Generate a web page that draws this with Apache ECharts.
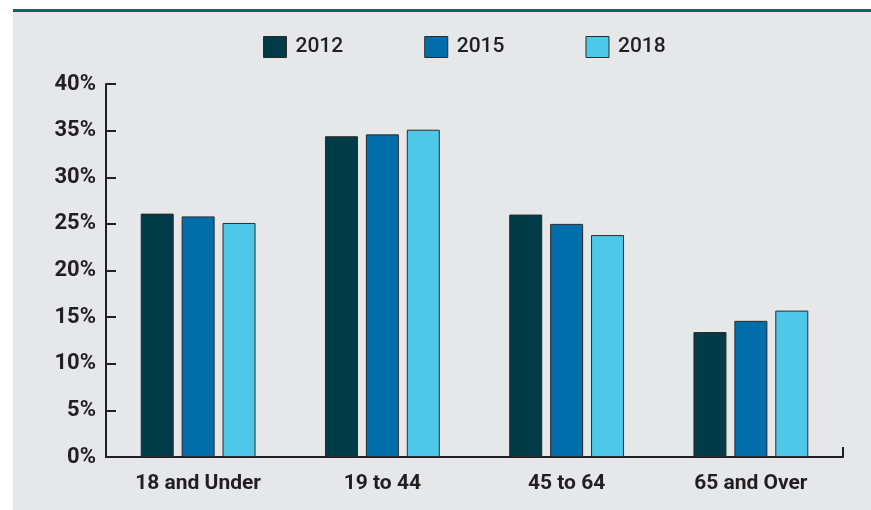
<!DOCTYPE html>
<html>
<head>
<meta charset="utf-8">
<script src="https://cdn.jsdelivr.net/npm/echarts@6/dist/echarts.min.js"></script>
<style>html,body{margin:0;padding:0;background:#fff;}#c{width:871px;height:510px;}</style>
</head>
<body>
<div id="c"></div>
<script>
var categories = ['18 and Under', '19 to 44', '45 to 64', '65 and Over'];
var seriesNames = ['2012', '2015', '2018'];
var values2012 = [26.1, 34.4, 26.0, 13.4];
var values2015 = [25.8, 34.6, 25.0, 14.6];
var values2018 = [25.1, 35.1, 23.8, 15.7];
var yTicks = [0, 5, 10, 15, 20, 25, 30, 35, 40];
var colors = ['#003c47', '#006eab', '#4dc8e8'];

var chart = echarts.init(document.getElementById('c'), null, {renderer: 'canvas'});
var font = 'Roboto, "Liberation Sans", Arial, sans-serif';
var textColor = '#231f20';
var allValues = [values2012, values2015, values2018];

var series = seriesNames.map(function (name, i) {
  return {
    name: name,
    type: 'bar',
    data: allValues[i],
    barWidth: 33,
    barGap: '24%',
    itemStyle: {color: colors[i], borderColor: '#2b2b2b', borderWidth: 1},
    emphasis: {disabled: true}
  };
});

chart.setOption({
  animation: false,
  backgroundColor: '#ffffff',
  graphic: [
    {type: 'rect', left: 13, top: 12, shape: {width: 858, height: 498}, style: {fill: '#e6e7e9'}, z: -10},
    {type: 'rect', left: 13, top: 9, shape: {width: 858, height: 3}, style: {fill: '#006b5e'}, z: -9}
  ],
  legend: {
    left: 258,
    top: 31,
    itemWidth: 23,
    itemHeight: 21,
    itemGap: 81,
    icon: 'rect',
    data: seriesNames,
    itemStyle: {borderColor: '#2b2b2b', borderWidth: 1},
    textStyle: {fontFamily: font, fontSize: 21, fontWeight: 500, color: textColor, padding: [0, 0, 0, 4]}
  },
  grid: {left: 106, right: 28, top: 84, bottom: 53, containLabel: false},
  xAxis: {
    type: 'category',
    data: categories,
    axisLine: {lineStyle: {color: textColor, width: 2}},
    axisTick: {show: true, inside: true, length: 10, lineStyle: {color: textColor, width: 2},
      interval: function (idx) { return idx === 0; }},
    axisLabel: {fontFamily: font, fontSize: 21, fontWeight: 'bold', color: textColor, margin: 16}
  },
  yAxis: {
    type: 'value',
    min: yTicks[0],
    max: yTicks[yTicks.length - 1],
    interval: yTicks[1] - yTicks[0],
    splitLine: {show: false},
    axisLine: {show: true, lineStyle: {color: textColor, width: 2}},
    axisTick: {show: true, inside: true, length: 10, lineStyle: {color: textColor, width: 2}},
    axisLabel: {fontFamily: font, fontSize: 22, fontWeight: 'bold', color: textColor, margin: 10,
      formatter: '{value}%'}
  },
  series: series
});
</script>
</body>
</html>
